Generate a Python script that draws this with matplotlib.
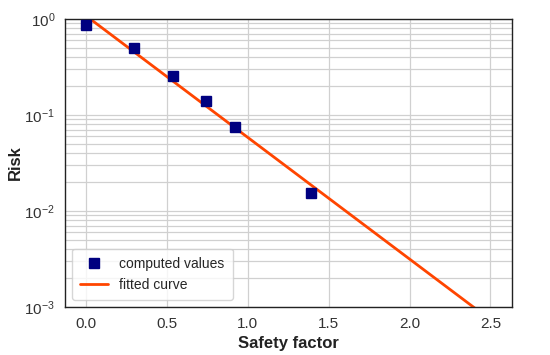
import matplotlib
matplotlib.use('Agg')
import matplotlib.pyplot as plt
import numpy as np
import seaborn as sns

# computed points
safety = [0.0, 0.30, 0.54, 0.74, 0.92, 1.39]
risk = [0.866, 0.50, 0.255, 0.14, 0.075, 0.0154]

# fitted curve end points (exponential -> straight on log axis)
fit_x = [0.0, 2.5]
fit_y = [1.076, 0.000736]

sns.set_style('white')
plt.rcParams['font.family'] = ['Liberation Sans', 'DejaVu Sans']

fig = plt.figure(figsize=(5.5, 3.55), dpi=100)
ax = fig.add_subplot(111)

xx = np.linspace(fit_x[0], fit_x[1], 200)
ly = np.interp(xx, fit_x, np.log10(fit_y))
ax.plot(safety, risk, 's', color='navy', markersize=7.5, label='computed values', zorder=3)
ax.plot(xx, 10 ** ly, '-', color='orangered', lw=2, label='fitted curve', zorder=2)

ax.set_yscale('log')
ax.set_ylim(1e-3, 1)
ax.set_xlim(-0.13, 2.63)
ax.grid(True, which='both', color='#d0d0d0', lw=0.9)
for s in ax.spines.values():
    s.set_color('#222222')
    s.set_linewidth(1.0)

ax.tick_params(labelsize=11, colors='#333333')
ax.set_xlabel('Safety factor', fontsize=12, fontweight='bold', color='#222222')
ax.set_ylabel('Risk', fontsize=12, fontweight='bold', color='#222222', labelpad=1)
ax.legend(loc='lower left', fontsize=10, frameon=True, borderpad=0.6)

fig.subplots_adjust(left=0.118, right=0.93, top=0.947, bottom=0.135)
fig.savefig('out.png', dpi=100)
